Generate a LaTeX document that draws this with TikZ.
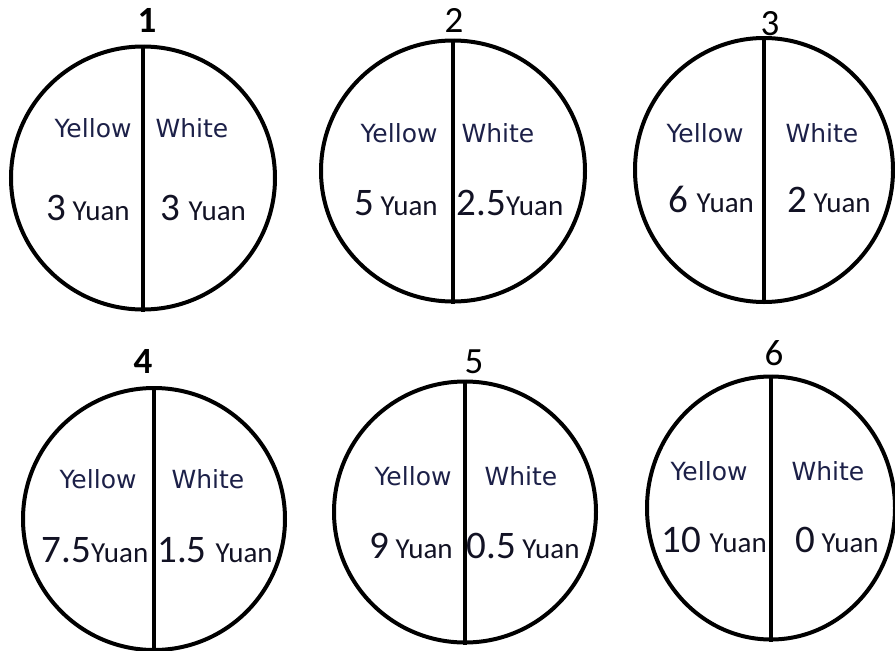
\documentclass[tikz,border=0pt]{standalone}
\usepackage{fontspec}
\setmainfont{Carlito}
\newfontfamily\lblfont{DejaVu Sans}
\usetikzlibrary{shapes.geometric}
\definecolor{navy}{RGB}{28,32,72}
\definecolor{ink}{RGB}{18,18,36}
\newcommand\yuan{{\fontsize{29}{29}\selectfont Yuan}}
\begin{document}
\begin{tikzpicture}[x=1pt,y=-1pt,
  disc/.style={ellipse, draw, line width=4pt, inner sep=0pt},
  divider/.style={line width=4.5pt},
  word/.style={anchor=base, text=navy, inner sep=0pt, font=\lblfont\fontsize{25}{25}\selectfont},
  price/.style={anchor=base, text=ink, inner sep=0pt, font=\fontsize{39}{39}\selectfont},
  num/.style={anchor=base, text=black, inner sep=0pt, font=\fontsize{37}{37}\selectfont}]
\useasboundingbox (0,0) rectangle (895,651);
% circles
\node[disc, minimum width=264pt, minimum height=263pt] (c1) at (143,178) {};
\node[disc, minimum width=264pt, minimum height=261pt] (c2) at (453,171) {};
\node[disc, minimum width=258pt, minimum height=264pt] (c3) at (764,170) {};
\node[disc, minimum width=262pt, minimum height=262pt] (c4) at (154,519) {};
\node[disc, minimum width=262pt, minimum height=261pt] (c5) at (465,512) {};
\node[disc, minimum width=248pt, minimum height=263pt] (c6) at (771,508) {};
% dividers
\foreach \c in {c1,c2,c3,c4,c5,c6} \draw[divider] (\c.north) -- (\c.south);
% numbers
\node[num, font=\bfseries\fontsize{37}{37}\selectfont] (n1) at (147,32) {1};
\node[num] (n2) at (454,32) {2};
\node[num] (n3) at (770,35) {3};
\node[num, font=\bfseries\fontsize{37}{37}\selectfont] (n4) at (143,373) {4};
\node[num] (n5) at (474,373) {5};
\node[num] (n6) at (774,365) {6};
% labels
\node[word] (y1) at (93,137) {Yellow};
\node[word] (w1) at (192,137) {White};
\node[word] (y2) at (399,142) {Yellow};
\node[word] (w2) at (498,142) {White};
\node[word] (y3) at (705,142) {Yellow};
\node[word] (w3) at (822,142) {White};
\node[word] (y4) at (98,488) {Yellow};
\node[word] (w4) at (208,488) {White};
\node[word] (y5) at (413,485) {Yellow};
\node[word] (w5) at (521,485) {White};
\node[word] (y6) at (709,480) {Yellow};
\node[word] (w6) at (828,480) {White};
% prices
\node[price] (p1l) at (88,220) {3\,\yuan};
\node[price] (p1r) at (203,220) {3 \yuan};
\node[price] (p2l) at (396,215) {5\,\yuan};
\node[price] (p2r) at (510,215) {2.5\yuan};
\node[price] (p3l) at (711,212) {6 \yuan};
\node[price] (p3r) at (829,212) {2\,\yuan};
\node[price] (p4l) at (95,562) {7.5\yuan};
\node[price] (p4r) at (215,562) {1.5 \yuan};
\node[price] (p5l) at (411,558) {9\,\yuan};
\node[price] (p5r) at (523,558) {0.5\,\yuan};
\node[price] (p6l) at (714,552) {10 \yuan};
\node[price] (p6r) at (837,552) {0\,\yuan};
\end{tikzpicture}
\end{document}
